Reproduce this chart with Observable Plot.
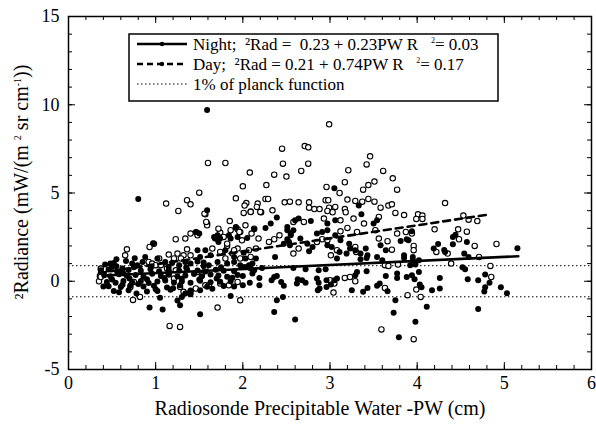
<!DOCTYPE html>
<html><head><meta charset="utf-8">
<script src="https://cdn.jsdelivr.net/npm/d3@7"></script>
<script src="https://cdn.jsdelivr.net/npm/@observablehq/plot@0.6"></script>
<style>
body{margin:0;background:#fff;}
#chart{position:relative;width:596px;height:425px;}
#chart svg, #chart svg text{font-family:"Liberation Serif","DejaVu Serif",serif !important;}
</style>
</head><body><div id="chart"></div>
<script>
// Day observations [PW (cm), ΔRadiance]
const dayObs = [
[1.60,6.70],[1.80,6.70],[1.50,5.02],[1.12,4.40],[1.36,4.59],[1.40,4.36],[1.26,3.98],[1.92,4.70],[1.57,3.79],[1.59,3.27],[1.85,3.41],
[2.99,8.89],[2.45,7.51],[2.71,7.66],[2.75,7.59],[2.46,6.66],[2.75,6.66],[3.46,7.08],[3.42,6.62],[2.08,6.16],[2.36,6.04],[2.50,5.93],[2.67,6.25],[3.21,6.29],[3.61,6.25],[2.00,5.38],[2.27,5.45],[3.17,5.61],[2.96,5.34],[3.11,5.00],[3.38,5.19],[3.44,5.45],[3.51,5.65],
[2.04,4.43],[2.02,4.29],[2.17,4.40],[2.26,4.66],[2.29,4.66],[2.48,4.47],[2.54,4.51],[2.64,4.47],[2.76,4.47],[2.95,4.59],[2.98,4.59],[3.20,4.63],[3.29,4.55],[3.37,4.51],[3.44,4.66],[3.51,4.51],[3.58,4.17],[3.67,4.29],
[2.01,3.87],[2.09,3.95],[2.21,3.91],[2.34,4.02],[2.76,4.17],[2.82,4.09],[2.88,4.09],[2.99,4.17],[3.06,4.21],[2.97,3.98],[3.03,3.91],[3.17,4.09],[3.18,3.91],
[2.58,3.36],[2.70,3.36],[2.93,3.55],[3.12,3.45],[3.27,3.55],[3.39,3.27],[3.56,3.64],
[3.72,5.83],[3.77,5.19],[3.71,4.36],[3.75,3.87],[3.85,3.75],[4.32,4.43],[4.01,3.79],[4.06,3.72],[3.99,3.53],[4.06,3.53],[4.53,3.72],[4.59,3.49],[4.69,3.41],
[4.91,2.11],[4.57,2.81],[4.66,2.00],[4.47,2.94],[4.48,2.38],[4.71,1.38],[4.39,1.00],[4.35,1.57],[4.22,1.66],[4.84,0.87],[4.85,0.24],[4.04,-0.89],[3.99,-0.47],[3.89,-0.79],[3.96,-3.28],[3.96,2.00],[3.96,1.76],[3.94,2.70],[3.87,2.79],[3.77,2.70],[4.20,2.94],[3.71,1.79],[3.78,0.95],
[3.59,-2.73],[3.04,-0.64],[3.63,-0.38],[3.29,0.00],[3.17,0.19],[3.23,0.24],[3.00,0.06],[3.05,-0.13],[3.63,0.91],[3.67,0.87],[2.09,1.38],[1.97,1.29],[2.18,2.42],[2.30,2.23],[2.36,2.38],[2.42,2.60],[2.64,1.85],[2.58,1.57],[2.85,2.23],[2.91,2.38],[2.97,2.32],[3.12,2.83],[3.31,2.79],[3.20,3.02],[3.30,1.66],[3.29,1.94],[3.52,2.89],[3.56,2.42],[3.66,2.27],[3.01,1.47],[3.08,1.76],[1.97,2.79],[1.99,2.32],[2.03,3.17],[2.13,2.98],
[1.16,-2.53],[1.28,-2.59],[1.71,-1.49],[0.74,-1.06],[0.82,-0.89],[1.46,-0.41],[1.57,-0.23],[0.35,0.00],[0.37,0.72],[0.67,1.81],[0.65,1.47],[0.93,1.94],[0.98,2.13],[1.23,2.38],[1.34,2.42],[1.40,2.70],[1.47,2.76],[1.48,2.60],[1.59,3.17],[1.74,2.76],[1.78,2.51],[1.72,2.98],[1.82,2.00],[1.94,1.85],[1.88,1.57],[1.80,1.29],[1.74,1.66],[1.65,1.85],[1.36,1.81],[1.40,1.47],[1.32,1.47],[1.29,1.29],[1.21,1.29],[1.15,1.51],[1.25,1.57],[0.92,1.09],[0.96,1.00],[1.04,1.29],[1.00,0.91],[1.06,0.91],[1.13,0.72],[1.23,0.62],[0.36,0.30],[0.71,-0.32],[0.75,-0.04],[1.28,-0.32],[1.32,-0.60],[1.40,-0.60],[1.53,0.34],[1.57,0.72],[1.48,0.53],[1.15,0.44],[1.21,0.15],[1.74,-0.13],[1.84,-0.23],[1.94,-0.04],[1.61,-0.23],[1.94,2.94],[1.96,2.79],
[0.37,0.24],[1.97,-1.08],[1.56,3.83],[2.09,3.93],[2.20,3.93],[2.16,4.21],[2.10,2.70],[2.15,1.85],[2.07,1.76],[1.58,3.36],[1.86,2.89],[1.82,2.13],[1.90,1.76]
];

// Night observations [PW (cm), ΔRadiance]
const nightObs = [
[1.59,9.70],[0.80,4.66],[1.59,4.02],[3.05,5.27],[3.33,4.29],[2.39,3.61],[3.36,3.79],
[2.32,3.27],[2.64,3.55],[2.78,3.41],[3.06,3.45],[2.97,3.27],[3.50,3.27],[3.54,3.45],
[5.15,1.87],[4.57,2.23],[4.41,2.10],[4.41,2.51],[4.44,2.64],[4.54,1.57],[4.59,1.38],[4.31,1.77],[4.32,1.66],[4.24,2.11],[4.19,1.85],[4.52,0.79],[4.55,0.68],[4.58,0.11],[4.70,0.06],[4.78,0.38],[4.83,-0.08],[4.78,-0.34],[4.77,-0.58],[4.96,-0.34],[5.03,-0.68],[4.70,-1.57],[4.26,0.19],[4.26,-0.41],[4.17,-0.51],[4.11,-1.45],[4.05,-0.34],[4.03,-0.19],[3.97,0.11],[4.02,0.53],[3.94,0.34],[3.88,0.24],[3.77,0.44],[3.77,0.19],[3.75,-1.08],[3.73,-1.79],[3.98,-2.30],[3.79,-3.17],[3.92,0.91],[3.95,1.19],[4.02,1.19],[3.98,0.95],[3.85,1.47],[3.85,1.32],[3.95,1.38],[3.81,2.28],[3.88,2.38],[3.90,2.32],[3.94,2.83],
[2.60,-2.17],[2.36,-1.74],[2.39,-1.08],[2.46,-0.89],[2.86,-0.51],[2.88,-0.41],[2.96,-0.32],[3.01,-0.19],[3.05,0.06],[3.25,-0.51],[3.38,-0.60],[3.43,-0.38],[3.54,-0.26],[3.57,-0.13],[3.66,-0.57],[3.64,0.30],[3.29,0.34],[3.31,0.53],[3.08,0.15],[2.85,0.15],[2.87,-0.08],[2.96,0.06],[2.72,-0.08],[2.68,0.06],[2.63,0.11],[2.62,-0.13],[2.47,-0.26],[2.44,-0.04],[2.36,0.24],[2.33,0.06],[2.39,0.30],[2.19,-0.23],[2.19,0.19],[2.08,-0.08],[2.00,-0.23],[2.00,0.30],[2.11,0.44],[2.13,0.62],[2.07,0.91],[2.11,1.00],[2.22,0.75],[2.37,1.38],[2.58,0.75],[2.72,0.68],[2.87,0.62],[2.95,0.68],[3.08,1.29],[3.19,1.57],[3.29,1.76],[3.35,1.25],[3.42,1.32],[3.54,1.38],[3.60,1.19],[3.42,0.57],[2.01,1.62],[2.03,1.29],[2.15,1.29],[2.51,2.38],[2.47,2.13],[2.54,2.04],[2.55,2.60],[2.51,2.89],[2.66,2.42],[2.74,2.13],[2.80,1.94],[2.76,1.70],[2.85,2.70],[2.91,2.79],[2.97,2.89],[3.06,2.60],[3.12,2.32],[3.22,2.13],[3.23,1.85],[3.11,1.66],[3.02,1.94],[2.97,2.04],[3.35,1.57],[3.41,1.85],[3.43,1.47],[3.58,2.04],[3.64,1.76],[1.97,0.91],[2.02,0.81],[2.09,0.72],[2.13,2.94],[2.26,3.02],[2.51,3.08],
[0.93,-1.49],[1.08,-1.60],[1.51,-1.87],[1.86,-0.83],[1.05,-0.94],[1.25,-1.09],[1.28,-1.36],[1.30,-0.89],[1.34,-0.70],[1.40,-0.74],[1.51,-0.51],[0.97,2.15],[1.46,2.79],[1.50,2.70],[1.67,2.51],[1.71,2.38],[1.72,2.23],[1.86,2.42],[1.94,2.51],[1.80,1.76],[1.90,1.38],[1.63,1.47],[1.57,1.76],[1.51,1.38],[1.48,1.76],[1.92,3.08],[1.84,2.60],
[0.48,1.00],[0.52,1.04],[0.50,0.81],[0.56,0.53],[0.62,0.72],[0.63,0.44],[0.73,1.00],[0.79,0.91],[0.85,1.09],[0.88,1.38],[1.02,1.29],[1.11,1.09],[1.19,1.05],[1.27,0.91],[1.34,1.09],[1.40,1.00],[1.48,1.12],[1.55,1.06],[1.61,0.91],[1.71,1.09],[1.82,1.00],[1.90,1.09],
[0.41,0.34],[0.48,0.28],[0.58,0.40],[0.67,0.31],[0.77,0.36],[0.86,0.25],[0.96,0.42],[1.06,0.30],[1.15,0.37],[1.25,0.27],[1.34,0.33],[1.44,0.41],[1.53,0.29],[1.63,0.38],[1.72,0.32],[1.82,0.26],[1.94,0.35],
[0.44,-0.04],[0.54,-0.09],[0.63,0.02],[0.73,-0.06],[0.83,0.01],[0.92,-0.10],[1.02,-0.02],[1.11,0.04],[1.21,-0.07],[1.30,-0.01],[1.40,-0.08],[1.51,0.03],[1.63,-0.05],[1.74,-0.03],[1.86,0.00],
[0.46,-0.28],[0.60,-0.33],[0.71,-0.24],[0.86,-0.30],[0.98,-0.26],[1.13,-0.35],[1.28,-0.22],[1.59,-0.31],[1.78,-0.27],
[0.37,0.62],[0.46,0.66],[0.60,0.58],[0.69,0.64],[0.83,0.60],[0.94,0.68],[1.04,0.56],[1.15,0.63],[1.27,0.59],[1.36,0.67],[1.48,0.61],[1.57,0.55],[1.69,0.65],[1.78,0.60],[1.90,0.57],
[0.69,-0.51],[1.02,-0.55],[1.17,-0.48],[1.40,-0.52],
[2.55,2.70],[2.58,2.89],[2.60,3.45],[2.53,2.23],[1.92,3.04],[2.05,2.45],[1.71,2.60],[1.68,2.42],[1.74,2.42],
[0.52,-0.55],[0.58,-0.62],[0.78,-0.70],[0.90,-0.58],[0.42,0.95],[0.55,1.25],[0.66,1.15],[0.76,1.30],[0.40,-0.30],[0.50,0.10],[0.70,0.15],[0.90,0.12],[1.10,0.18],[1.30,0.14],[1.50,0.10],[1.70,0.16],[1.88,0.20],[0.55,0.85],[0.75,0.80],[0.95,0.84],[1.15,0.82],[1.35,0.78],[1.55,0.86],[1.75,0.80],[0.62,-0.20],[0.80,-0.15],[1.00,-0.45],[1.20,-0.40],[1.65,-0.42],[1.90,-0.30]
];

// Regression fits: rad = a + b * PW, drawn over the observed PW range
const nightFit = {a: 0.23, b: 0.23, pwRange: [0.40, 5.16]};
const dayFit   = {a: 0.21, b: 0.74, pwRange: [0.35, 4.83]};
// 1% of Planck function band
const planckLimit = [0.88, -0.88];

const xTickLabels = [0, 1, 2, 3, 4, 5, 6];
const yTickLabels = [-5, 0, 5, 10, 15];
const xMinorTicks = d3.range(0, 6.0001, 0.2);
const yMinorTicks = d3.range(-5, 15.0001, 1);

const W = 596, H = 425, MT = 16, MB = 56, ML = 68, MR = 5;
const PH = H - MT - MB, PWD = W - ML - MR;
const FONT = "'Liberation Serif', 'DejaVu Serif', serif";

const day = dayObs.map(([pw, rad]) => ({pw, rad}));
const night = nightObs.map(([pw, rad]) => ({pw, rad}));
const fitPts = f => f.pwRange.map(p => ({pw: p, rad: f.a + f.b * p}));

const chart = Plot.plot({
  width: W, height: H,
  marginTop: MT, marginBottom: MB, marginLeft: ML, marginRight: MR,
  style: {fontFamily: FONT, fontSize: "18px", color: "black", background: "white", overflow: "visible"},
  x: {domain: [0, 6], ticks: xTickLabels, tickSize: 0, tickPadding: 7, tickFormat: d => String(d), label: null},
  y: {domain: [-5, 15], ticks: yTickLabels, tickSize: 0, tickPadding: 9, tickFormat: d => String(d), label: null},
  marks: [
    Plot.ruleY(planckLimit, {stroke: "black", strokeWidth: 1, strokeDasharray: "1.5,2.5"}),
    Plot.dot(day, {x: "pw", y: "rad", r: 2.7, stroke: "black", strokeWidth: 1.1, fill: "white"}),
    Plot.dot(night, {x: "pw", y: "rad", r: 3, fill: "black", stroke: "none"}),
    Plot.line(fitPts(nightFit), {x: "pw", y: "rad", stroke: "black", strokeWidth: 2.6}),
    Plot.line(fitPts(dayFit), {x: "pw", y: "rad", stroke: "black", strokeWidth: 2.6, strokeDasharray: "7,5"}),
    // inward ticks on all four sides
    Plot.tickX(xMinorTicks, {x: d => d, insetTop: PH - 4, stroke: "black"}),
    Plot.tickX(xMinorTicks, {x: d => d, insetBottom: PH - 4, stroke: "black"}),
    Plot.tickX(xTickLabels, {x: d => d, insetTop: PH - 7, stroke: "black"}),
    Plot.tickX(xTickLabels, {x: d => d, insetBottom: PH - 7, stroke: "black"}),
    Plot.tickY(yMinorTicks, {y: d => d, insetRight: PWD - 4, stroke: "black"}),
    Plot.tickY(yMinorTicks, {y: d => d, insetLeft: PWD - 4, stroke: "black"}),
    Plot.tickY(yTickLabels, {y: d => d, insetRight: PWD - 7, stroke: "black"}),
    Plot.tickY(yTickLabels, {y: d => d, insetLeft: PWD - 7, stroke: "black"}),
    Plot.frame({stroke: "black", strokeWidth: 1.5})
  ]
});
document.getElementById("chart").appendChild(chart);

const svg = d3.select(chart);
// Axis titles
svg.append("text").attr("x", 320).attr("y", 415)
  .style("text-anchor", "middle").style("font-size", "20px").attr("fill", "black")
  .text("Radiosonde Precipitable Water -PW (cm)");
const yt = svg.append("text").attr("transform", "translate(28,182) rotate(-90)")
  .style("text-anchor", "middle").style("font-size", "20px").attr("fill", "black")
  .style("white-space", "pre");
yt.append("tspan").text("²Radiance (mW/(m ");
yt.append("tspan").attr("dy", -7).style("font-size", "10px").text("2");
yt.append("tspan").attr("dy", 7).text(" sr cm");
yt.append("tspan").attr("dy", -7).style("font-size", "10px").text("-1");
yt.append("tspan").attr("dy", 7).text("))");

// Legend box
const lg = svg.append("g").attr("fill", "black");
lg.append("rect").attr("x", 129).attr("y", 34).attr("width", 369).attr("height", 67)
  .attr("fill", "white").attr("stroke", "black").attr("stroke-width", 1.5);
const rows = [
  {y: 44, dash: null, w: 2.6, dot: true, main: "Night;  ²Rad =  0.23 + 0.23PW R   ", r2: "= 0.03"},
  {y: 64, dash: "6,4", w: 2.6, dot: true, main: "Day;  ²Rad = 0.21 + 0.74PW R   ", r2: "= 0.17"},
  {y: 84, dash: "1.5,2.5", w: 1, dot: false, main: "1% of planck function", r2: null}
];
rows.forEach(r => {
  const ln = lg.append("line").attr("x1", 137).attr("x2", 187).attr("y1", r.y).attr("y2", r.y)
    .attr("stroke", "black").attr("stroke-width", r.w);
  if (r.dash) ln.attr("stroke-dasharray", r.dash);
  if (r.dot) lg.append("circle").attr("cx", 162).attr("cy", r.y).attr("r", 2.2).attr("fill", "black");
  const t = lg.append("text").attr("x", 193).attr("y", r.y + 6)
    .style("text-anchor", "start").style("font-size", "17px").style("white-space", "pre");
  t.append("tspan").text(r.main);
  if (r.r2) {
    t.append("tspan").attr("dy", -7).style("font-size", "8px").text("2");
    t.append("tspan").attr("dy", 7).text(r.r2);
  }
});
</script>
</body></html>
